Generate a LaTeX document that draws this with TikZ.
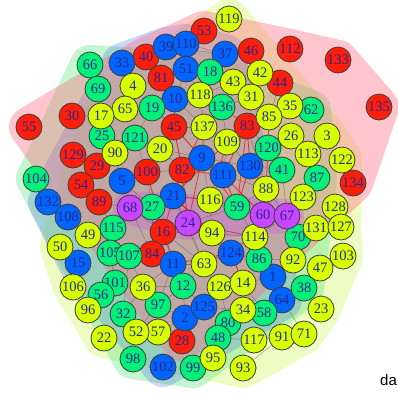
\documentclass[tikz,border=0pt]{standalone}
\usepackage{fontspec}
\newfontfamily\numf{Liberation Serif}
\newfontfamily\labf{Liberation Sans}
\definecolor{cRed}{RGB}{255,30,10}
\definecolor{cBlue}{RGB}{0,100,255}
\definecolor{cGreen}{RGB}{0,240,120}
\definecolor{cYel}{RGB}{215,255,0}
\definecolor{cPur}{RGB}{200,70,255}
\definecolor{cTxt}{RGB}{40,40,140}
\definecolor{cRim}{RGB}{60,60,60}
\definecolor{hPink}{RGB}{255,110,130}
\definecolor{hGreen}{RGB}{80,230,120}
\definecolor{hBlue}{RGB}{90,130,230}
\definecolor{hYel}{RGB}{200,245,80}
\definecolor{hPur}{RGB}{200,90,230}
\pgfdeclarelayer{bg}
\pgfdeclarelayer{edges}
\pgfsetlayers{bg,edges,main}
\tikzset{
  vtx/.style={circle, minimum size=26pt, inner sep=0pt, draw=cRim, line width=0.8pt, text=cTxt, font=\numf\fontsize{14.5}{14.5}\selectfont},
  nr/.style={vtx, fill=cRed},
  nb/.style={vtx, fill=cBlue},
  ng/.style={vtx, fill=cGreen},
  ny/.style={vtx, fill=cYel},
  np/.style={vtx, fill=cPur},
  hullshape/.style={line width=40pt, line join=round, draw=#1, fill=#1},
  egray/.style={draw=black!70, opacity=0.5, line width=0.5pt},
  ered/.style={draw=red, opacity=0.7, line width=0.8pt},
}
\begin{document}
\begin{tikzpicture}[x=1pt, y=-1pt]
\useasboundingbox (0,0) rectangle (398,392);
% nodes
\foreach \n/\x/\y in {53/204/31, 40/146/57, 81/161/78, 46/251/51, 112/290/49, 133/338/60, 44/280/83, 30/72/116, 55/29/127, 45/174/127, 83/247/126, 135/379/107, 129/73/155, 29/97/166, 100/147/172, 82/182/170, 54/81/185, 89/99/202, 134/353/183, 16/163/232, 84/152/254, 28/182/341}
  \node[nr] (n\n) at (\x,\y) {\n};
\foreach \n/\x/\y in {33/122/63, 39/166/47, 110/186/44, 51/186/69, 37/225/54, 10/175/99, 9/202/158, 130/250/166, 111/223/175, 5/122/181, 21/173/196, 132/48/202, 108/68/217, 15/78/263, 11/173/264, 124/231/253, 1/273/277, 64/282/300, 2/185/318, 125/204/307, 102/163/367}
  \node[nb] (n\n) at (\x,\y) {\n};
\foreach \n/\x/\y in {66/90/65, 69/98/89, 19/152/108, 18/210/72, 136/222/107, 62/311/110, 25/102/136, 121/135/138, 104/36/179, 27/152/207, 115/113/228, 105/110/253, 107/129/256, 101/115/283, 56/101/295, 32/123/314, 97/158/305, 12/183/286, 98/133/359, 99/193/368, 80/228/323, 48/218/338, 58/264/313, 38/304/288, 86/259/259, 70/298/237, 41/282/170, 87/317/178, 59/237/207, 120/268/148}
  \node[ng] (n\n) at (\x,\y) {\n};
\foreach \n/\x/\y in {119/229/19, 4/133/86, 65/125/109, 17/101/116, 42/260/73, 43/233/82, 31/251/97, 35/290/106, 85/269/117, 118/200/95, 137/204/127, 109/227/142, 26/291/136, 3/327/136, 113/308/154, 122/342/160, 20/160/149, 90/115/153, 88/266/189, 123/303/197, 116/210/200, 128/335/207, 131/316/228, 127/341/227, 94/212/233, 114/255/237, 92/293/260, 103/343/256, 47/320/268, 63/204/264, 126/220/287, 14/243/283, 34/243/310, 23/321/309, 117/254/340, 91/282/337, 71/304/334, 93/243/368, 95/213/358, 57/158/332, 52/136/332, 36/143/287, 22/104/338, 96/88/310, 106/73/287, 50/60/247, 49/88/235}
  \node[ny] (n\n) at (\x,\y) {\n};
\foreach \n/\x/\y in {68/130/208, 24/188/223, 60/263/215, 67/287/216}
  \node[np] (n\n) at (\x,\y) {\n};
% hulls
\begin{pgfonlayer}{bg}
  \begin{scope}[transparency group, opacity=0.34]
    \filldraw[hullshape=hYel] (n50.center) -- (n17.center) -- (n4.center) -- (n119.center) -- (n3.center) -- (n122.center) -- (n127.center) -- (n103.center) -- (n23.center) -- (n71.center) -- (n93.center) -- (n22.center) -- (n96.center) -- (n106.center) -- cycle;
  \end{scope}
  \begin{scope}[transparency group, opacity=0.34]
    \filldraw[hullshape=hGreen] (n66.center) -- (n18.center) -- (n62.center) -- (n87.center) -- (n38.center) -- (n99.center) -- (n98.center) -- (n104.center) -- cycle;
  \end{scope}
  \begin{scope}[transparency group, opacity=0.32]
    \filldraw[hullshape=hBlue] (n132.center) -- (n33.center) -- (n39.center) -- (n110.center) -- (n37.center) -- (n130.center) -- (n64.center) -- (n102.center) -- (n15.center) -- cycle;
  \end{scope}
  \begin{scope}[transparency group, opacity=0.4]
    \filldraw[hullshape=hPink] (n55.center) -- (n40.center) -- (n53.center) -- (n112.center) -- (n133.center) -- (n135.center) -- (n134.center) -- (n28.center) -- cycle;
  \end{scope}
  \begin{scope}[transparency group, opacity=0.32]
    \filldraw[hullshape=hPur, line width=34pt] (n68.center) -- (n60.center) -- (n67.center) -- (n24.center) -- cycle;
  \end{scope}
\end{pgfonlayer}
% edges
\begin{pgfonlayer}{edges}
  \foreach \a/\b in {110/37, 39/37, 93/91, 71/64, 32/107, 51/18, 51/10, 10/118, 118/137, 137/109, 109/111, 111/9, 9/82, 82/21, 21/24, 24/16, 16/84, 84/11, 11/12, 12/2, 2/125, 125/126, 126/14, 14/1, 1/86, 86/114, 114/60, 60/88, 88/130, 130/120, 120/41, 41/67, 67/70, 70/92, 59/116, 116/94, 94/124, 124/63, 63/11, 5/68, 68/27, 27/21, 100/20, 20/45, 45/137, 136/31, 31/85, 85/83, 83/109, 43/136, 43/31, 136/118, 19/10, 19/121, 121/100, 90/5, 29/5, 89/68, 115/27, 115/105, 101/36, 36/97, 97/12, 57/2, 52/97, 80/34, 34/58, 58/64, 48/117, 117/91, 38/64, 92/1, 24/94, 16/11, 24/59, 59/60, 130/111, 21/116, 45/82, 100/82, 5/27, 68/16, 10/137, 136/109, 83/120, 118/43, 9/130, 111/116, 94/114, 63/126, 12/125, 124/14, 14/34, 125/80, 2/97, 36/12, 11/36, 27/84, 16/94, 21/9, 45/9, 20/9, 137/136, 109/130, 83/88, 111/88, 116/60, 59/114, 59/88, 9/116, 24/63, 16/63, 21/63, 84/12, 11/97, 68/84, 27/16, 100/27, 82/27, 5/100, 20/82, 121/20, 45/10, 81/10, 19/45, 65/19, 4/81, 40/81, 51/118, 18/118, 37/18, 43/18, 42/31, 44/85, 35/85, 26/120, 41/130, 88/67, 114/67, 86/92, 1/64, 14/58, 34/125, 126/80, 2/28, 57/97, 32/36, 107/36, 105/101, 115/68, 49/115, 89/115}
    \draw[egray] (n\a) -- (n\b);
  \foreach \a/\b in {45/82, 82/24, 83/130, 9/59, 109/21, 16/24, 24/114, 111/59, 82/16, 45/9, 83/111, 124/86, 21/94, 63/114, 9/24, 120/88, 116/21, 10/45, 137/82, 100/16, 11/124, 83/59, 111/60, 109/116, 130/59, 86/1, 124/14, 137/9, 136/83, 82/111, 21/124, 16/12, 24/124, 85/120, 130/88}
    \draw[ered] (n\a) -- (n\b);
\end{pgfonlayer}
\node[anchor=base west, inner sep=0pt, font=\labf\fontsize{15}{15}\selectfont] (lbl) at (380,385) {da};
\end{tikzpicture}
\end{document}
